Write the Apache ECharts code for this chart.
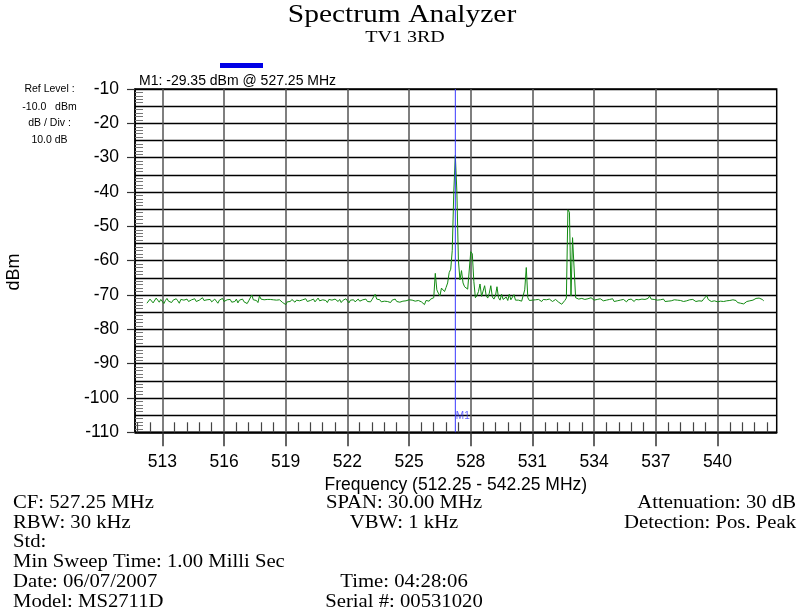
<!DOCTYPE html>
<html lang="en">
<head>
    <meta charset="UTF-8">
    <title>Spectrum Analyzer</title>
    <script type="text/javascript" src="https://cdn.jsdelivr.net/npm/echarts@6/dist/echarts.min.js"></script>
</head>
<body style="margin: 0;">
<div id="container" style="width: 799px; height: 611px;"></div>
<script type="text/javascript">
    // sweep: 401 points, 512.25 - 542.25 MHz
    var freqStart = 512.25;
    var freqStep = 0.075;

    // 512.25 - 525.825 MHz
    var levelsLow = [
        -72.4,-71.9,-71.2,-71.6,-72.3,-71.8,-70.9,-71.5,-72.1,-71.3,-71.7,-72.5,-71.6,-71.0,-71.8,-71.4,-72.2,-71.5,-71.9,-71.1,
        -71.7,-72.4,-71.3,-71.8,-71.5,-72.0,-71.2,-71.9,-72.3,-71.4,-71.6,-71.1,-71.9,-72.2,-71.5,-71.8,-70.8,-71.6,-72.1,-71.4,
        -71.9,-71.3,-72.0,-71.6,-71.2,-71.8,-72.4,-71.5,-71.7,-71.0,-71.9,-72.2,-71.4,-71.8,-71.3,-72.1,-71.6,-71.9,-71.2,-72.3,
        -71.5,-71.8,-71.2,-72.0,-71.6,-72.5,-71.7,-71.3,-70.0,-71.4,-71.9,-71.6,-72.2,-70.3,-71.2,-71.3,-71.4,-71.2,-71.3,-71.4,
        -71.3,-71.2,-71.4,-71.3,-71.5,-71.3,-71.4,-71.9,-72.2,-72.4,-72.8,-72.0,-71.6,-71.9,-71.3,-71.8,-72.1,-71.5,-71.2,-71.7,
        -72.0,-71.4,-71.8,-71.1,-71.9,-72.3,-71.6,-71.8,-71.2,-72.0,-71.5,-70.9,-71.7,-72.1,-71.4,-71.9,-71.6,-72.2,-71.3,-71.8,
        -71.5,-72.0,-71.2,-71.7,-71.9,-71.3,-72.2,-71.6,-71.8,-71.1,-71.7,-72.3,-71.5,-71.9,-71.4,-72.0,-71.6,-71.2,-71.8,-72.1,
        -71.4,-71.7,-71.2,-71.9,-71.6,-72.0,-71.3,-71.5,-69.8,-71.2,-71.6,-71.4,-72.0,-71.5,-71.8,-71.3,-71.9,-71.6,-72.2,-71.5,
        -71.7,-71.2,-71.9,-71.4,-72.1,-71.6,-71.8,-71.3,-71.7,-72.0,-71.4,-71.9,-71.5,-71.2,-71.8,-72.2,-71.6,-71.4,-72.0,-71.7,
        -72.8,-71.6
    ];
    // 525.9 - 530.25 MHz, carrier and sidebands
    var levelsCarrier = [
        -71.5,-71.8,-71.2,-71.0,-70.8,-63.7,-68.5,-69.5,-70.3,-68.0,-67.5,-69.0,-67.8,-66.5,-63.5,-62.5,-57.0,-40.0,-29.35,-40.0,
        -60.0,-65.6,-62.9,-66.5,-67.6,-68.0,-68.3,-68.6,-57.4,-58.0,-66.0,-70.8,-70.2,-69.0,-66.8,-70.4,-70.8,-67.3,-70.2,-70.9,
        -69.5,-67.3,-70.6,-71.2,-70.3,-67.6,-70.8,-71.5,-69.8,-71.3,-71.0,-70.6,-71.6,-69.8,-71.4,-71.2,-69.9,-71.5,-71.3
    ];
    // 530.325 - 532.65 MHz
    var levelsMid = [
        -71.5,-71.2,-71.8,-71.4,-68.5,-62.0,-70.8,-71.6,-72.0,-71.5,-71.2,-71.4,-71.7,-71.3,-71.5,-71.9,
        -71.3,-71.7,-71.4,-71.8,-71.2,-71.6,-71.9,-71.5,-71.3,-71.8,-72.1,-72.4,-72.7,-72.2,-71.6,-70.9
    ];
    // 532.725 - 533.1 MHz
    var levelsSpur = [-45.2,-45.9,-70.3,-53.3,-53.8,-70.8];
    // 533.175 - 542.25 MHz
    var levelsHigh = [
        -70.6,-71.2,-70.8,-71.0,-70.7,-71.3,-70.9,-71.1,-71.4,-70.8,-71.2,-71.5,-71.0,-71.3,-71.6,-71.1,-71.4,-71.7,-71.2,-71.5,
        -71.8,-71.3,-71.6,-71.1,-71.9,-71.4,-71.7,-71.2,-71.5,-71.8,-71.3,-71.6,-72.0,-71.4,-71.7,-71.2,-71.5,-71.9,-71.3,-71.6,
        -71.4,-71.8,-71.2,-71.6,-71.3,-71.5,-71.0,-70.3,-71.2,-71.6,-71.3,-71.8,-71.5,-72.0,-71.4,-71.7,-71.2,-71.9,-71.5,-71.8,
        -71.3,-71.7,-72.1,-71.4,-71.8,-71.5,-72.0,-71.6,-71.3,-71.9,-71.5,-71.7,-72.2,-71.4,-71.8,-71.3,-71.6,-71.9,-71.4,-71.7,
        -71.5,-71.8,-71.2,-70.8,-70.2,-71.3,-71.6,-71.9,-71.4,-71.7,-71.5,-72.0,-71.6,-71.8,-71.3,-71.9,-71.5,-71.7,-72.1,-71.6,
        -71.8,-71.4,-71.9,-71.6,-72.2,-71.8,-72.4,-72.3,-72.6,-72.1,-71.9,-72.3,-71.7,-72.0,-71.5,-71.2,-71.0,-70.5,-70.9,-71.4,
        -71.3,-71.7
    ];

    var markerFreq = 527.25;
    var markerLevel = -29.35;

    var freqTicks = [513, 516, 519, 522, 525, 528, 531, 534, 537, 540];
    var freqMin = 511.67;
    var freqMax = 542.88;

    var footLeft = ['CF: 527.25 MHz', 'RBW: 30 kHz', 'Std:', 'Min Sweep Time: 1.00 Milli Sec', 'Date: 06/07/2007', 'Model: MS2711D'];
    var footMid = ['SPAN: 30.00 MHz', 'VBW: 1 kHz', '', '', 'Time: 04:28:06', 'Serial #: 00531020'];
    var footRight = ['Attenuation: 30 dB', 'Detection: Pos. Peak'];
    var refInfo = ['Ref Level :', '-10.0   dBm', 'dB / Div :', '10.0 dB'];

    var levels = [].concat(levelsLow, levelsCarrier, levelsMid, levelsSpur, levelsHigh);
    var trace = levels.map(function (v, i) {
        return [+(freqStart + i * freqStep).toFixed(3), v];
    });

    var minorTicks = [];
    for (var f = 511.8; f < freqMax; f += 0.6) {
        var r = Math.round(f * 10) / 10;
        if (freqTicks.indexOf(r) < 0) minorTicks.push(r);
    }

    var SERIF = '"Liberation Serif", "Times New Roman", serif';
    var SANS = '"Liberation Sans", Arial, sans-serif';

    var graphics = [];
    function txt(x, y, s, size, family, align, sx, extra) {
        var g = {
            type: 'text', x: x, y: y, scaleX: sx || 1, silent: true,
            style: {
                text: s, font: size + 'px ' + family, fill: '#000',
                textAlign: align, align: align,
                textVerticalAlign: 'middle', verticalAlign: 'middle'
            }
        };
        if (extra) for (var k in extra) g[k] = extra[k];
        graphics.push(g);
    }
    txt(402, 15, 'Spectrum Analyzer', 25, SERIF, 'center', 1.18);
    txt(405, 37.5, 'TV1 3RD', 17, SERIF, 'center', 1.18);
    txt(139, 81, 'M1: ' + markerLevel.toFixed(2) + ' dBm @ ' + markerFreq.toFixed(2) + ' MHz', 14, SANS, 'left', 1);
    var refY = [89.5, 106.7, 123.5, 140.5];
    refInfo.forEach(function (s, k) { txt(49.5, refY[k], s, 10.5, SANS, 'center', 1); });
    txt(14, 272, 'dBm', 18, SANS, 'center', 1, { rotation: Math.PI / 2 });
    var rowY0 = 503, rowGap = 19.8;
    footLeft.forEach(function (s, k) { txt(13, rowY0 + k * rowGap, s, 18, SERIF, 'left', 1.15); });
    footMid.forEach(function (s, k) { if (s) txt(404, rowY0 + k * rowGap, s, 18, SERIF, 'center', 1.15); });
    footRight.forEach(function (s, k) { txt(796, rowY0 + k * rowGap, s, 18, SERIF, 'right', 1.15); });

    var dom = document.getElementById("container");
    var myChart = echarts.init(dom);

    var option = {
        animation: false,
        backgroundColor: '#fff',
        grid: {
            left: 135, right: 22.3, top: 89, bottom: 178.7,
            show: true, borderColor: '#000', borderWidth: 1.5
        },
        legend: {
            left: 220, top: 63, padding: 0,
            icon: 'rect', itemWidth: 43, itemHeight: 5,
            formatter: function () { return ''; },
            selectedMode: false,
            data: [{ name: 'M1', itemStyle: { color: '#0000e6' } }]
        },
        graphic: graphics,
        xAxis: [
            {
                type: 'value', min: freqMin, max: freqMax,
                name: 'Frequency (512.25 - 542.25 MHz)',
                nameLocation: 'middle', nameGap: 39,
                nameTextStyle: { fontFamily: SANS, fontSize: 17.5, color: '#000' },
                axisLine: { lineStyle: { color: '#000', width: 1.5 } },
                axisTick: { show: true, length: 14, customValues: freqTicks, lineStyle: { color: '#333', width: 1.5 } },
                axisLabel: { customValues: freqTicks, margin: 21, fontFamily: SANS, fontSize: 17.5, color: '#000' },
                splitLine: { show: true, lineStyle: { color: '#555', width: 1.5 } }
            },
            {
                type: 'value', min: freqMin, max: freqMax, position: 'bottom',
                axisLine: { show: false },
                axisTick: { show: true, inside: true, length: 10, customValues: minorTicks, lineStyle: { color: '#444', width: 1.2 } },
                axisLabel: { show: false },
                splitLine: { show: false }
            }
        ],
        yAxis: [
            {
                type: 'value', min: -110, max: -10, interval: 10, position: 'left',
                axisLine: { show: true, lineStyle: { color: '#000', width: 1.5 } },
                axisTick: { show: true, length: 8, lineStyle: { color: '#333', width: 1.2 } },
                axisLabel: { margin: 16, fontFamily: SANS, fontSize: 17.5, color: '#000' },
                splitLine: { show: false }
            },
            {
                type: 'value', min: -110, max: -10, interval: 5, position: 'left',
                axisLine: { show: false },
                axisTick: { show: false, inside: true },
                axisLabel: { show: false },
                minorTick: { show: true, splitNumber: 5, length: 8, lineStyle: { color: '#777', width: 1 } },
                splitLine: { show: true, lineStyle: { color: '#000', width: 1.3 } }
            }
        ],
        series: [
            {
                name: 'Trace', type: 'line', data: trace,
                showSymbol: false, symbol: 'none',
                lineStyle: { color: '#118a11', width: 1 },
                itemStyle: { color: '#118a11' },
                z: 3
            },
            {
                name: 'M1', type: 'line',
                data: [[markerFreq, -110], [markerFreq, -10]],
                showSymbol: false, symbol: 'none',
                lineStyle: { color: '#3a3aff', width: 1 },
                itemStyle: { color: '#0000e6' },
                z: 4
            },
            {
                name: 'M1 label', type: 'scatter',
                data: [[markerFreq, -105.2]],
                symbolSize: 1, itemStyle: { color: 'rgba(0,0,0,0)' },
                label: {
                    show: true, position: 'right', distance: 0,
                    formatter: 'M1', color: '#3a3aff', fontFamily: SANS, fontSize: 10
                },
                z: 5
            }
        ]
    };
    myChart.setOption(option);
</script>
</body>
</html>
